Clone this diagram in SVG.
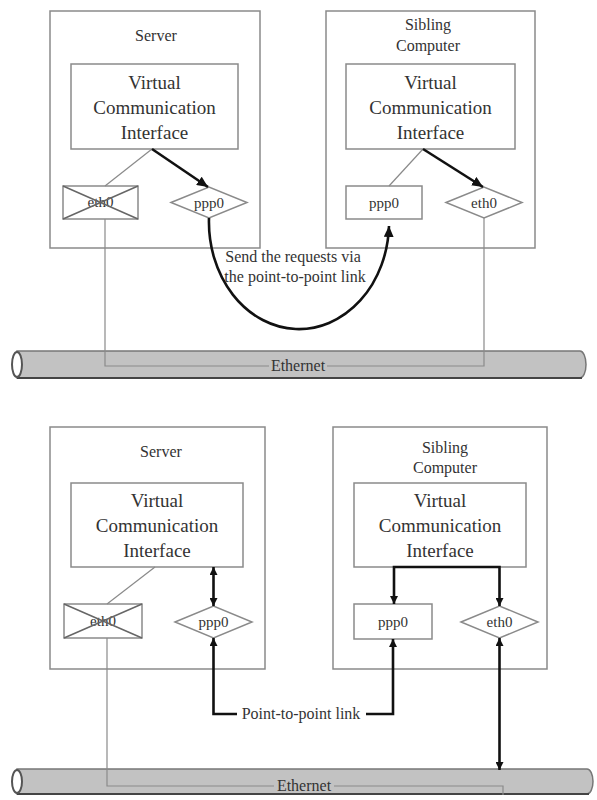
<svg xmlns="http://www.w3.org/2000/svg" width="597" height="800" viewBox="0 0 597 800" font-family="'Liberation Serif', 'DejaVu Serif', serif">
<style>
text{font-family:'Liberation Serif','DejaVu Serif',serif;fill:#333;text-anchor:middle}
.box{fill:#fff;stroke:#8a8a8a;stroke-width:1.5}
.thin{fill:none;stroke:#8a8a8a;stroke-width:1.2}
.bold{fill:none;stroke:#111;stroke-width:2.6}
.lbl{font-size:16px}
.vci{font-size:19px}
.ifc{font-size:15px}
.tube{fill:#c2c2c2;stroke:#777;stroke-width:1.5}
</style>
<defs>
<marker id="ah" markerUnits="userSpaceOnUse" markerWidth="12" markerHeight="10" refX="11" refY="5" orient="auto-start-reverse"><path d="M0,0 L11,5 L0,10 z" fill="#111"/></marker>
<marker id="as" markerUnits="userSpaceOnUse" markerWidth="8" markerHeight="8" refX="8" refY="4" orient="auto-start-reverse"><path d="M0,0 L8,4 L0,8 z" fill="#111"/></marker>
</defs>

<!-- Top section -->
<g id="ethernet-top">
<path class="tube" d="M17,351 H580 A6,13.5 0 0 1 580,378 H17 Z"/>
<line x1="17" y1="378" x2="582" y2="378" stroke="#444" stroke-width="2"/>
<ellipse cx="17" cy="364.5" rx="5" ry="12.5" fill="#fff" stroke="#555" stroke-width="2"/>
</g>
<g id="server-top">
<rect class="box" x="50" y="11" width="210" height="237"/>
<text class="lbl" x="156" y="41">Server</text>
</g>
<g id="vci-server-top">
<rect class="box" x="71" y="64" width="167" height="85"/>
<text class="vci" x="154.5" y="89">Virtual</text>
<text class="vci" x="154.5" y="114">Communication</text>
<text class="vci" x="154.5" y="139">Interface</text>
</g>
<g id="eth0-server-top">
<rect class="box" x="63" y="186" width="75" height="33"/>
<text class="ifc" x="100.5" y="207">eth0</text>
<path d="M63,186 L138,219 M138,186 L63,219" stroke="#666" stroke-width="1.5"/>
</g>
<g id="ppp0-server-top">
<polygon class="box" points="171,202.5 209,187 247,202.5 209,218"/>
<text class="ifc" x="209" y="207.5">ppp0</text>
</g>
<g id="sibling-top">
<rect class="box" x="326" y="11" width="209" height="237"/>
<text class="lbl" x="428" y="30">Sibling</text>
<text class="lbl" x="428" y="51">Computer</text>
</g>
<g id="vci-sibling-top">
<rect class="box" x="346" y="64" width="169" height="85"/>
<text class="vci" x="430.5" y="89">Virtual</text>
<text class="vci" x="430.5" y="114">Communication</text>
<text class="vci" x="430.5" y="139">Interface</text>
</g>
<g id="ppp0-sibling-top">
<rect class="box" x="346" y="186" width="76" height="33"/>
<text class="ifc" x="384" y="207.5">ppp0</text>
</g>
<g id="eth0-sibling-top">
<polygon class="box" points="446,202.5 484,187 522,202.5 484,218"/>
<text class="ifc" x="484" y="207.5">eth0</text>
</g>
<g id="connectors-top">
<line class="thin" x1="152" y1="149" x2="105" y2="186"/>
<line class="bold" x1="152" y1="149" x2="208" y2="187" marker-end="url(#ah)"/>
<line class="thin" x1="423" y1="149" x2="389" y2="186"/>
<line class="bold" x1="423" y1="149" x2="483" y2="187" marker-end="url(#ah)"/>
<path class="bold" d="M209,218 A90,107 0 0 0 389,226" marker-end="url(#ah)"/>
<path class="thin" d="M105,219 V366 H269"/>
<path class="thin" d="M327,366 H484 V218"/>
<text class="lbl" x="298" y="371">Ethernet</text>
<text class="lbl" x="293" y="262">Send the requests via</text>
<text class="lbl" x="295" y="282">the point-to-point link</text>
</g>

<!-- Bottom section -->
<g id="ethernet-bottom">
<path class="tube" d="M17,769 H587 A6,12.5 0 0 1 587,794 H17 Z"/>
<line x1="17" y1="794" x2="589" y2="794" stroke="#444" stroke-width="2"/>
<ellipse cx="17" cy="781.5" rx="5" ry="11.5" fill="#fff" stroke="#555" stroke-width="2"/>
</g>
<g id="server-bottom">
<rect class="box" x="50" y="427" width="215" height="242"/>
<text class="lbl" x="161" y="457">Server</text>
</g>
<g id="vci-server-bottom">
<rect class="box" x="71" y="483" width="172" height="84"/>
<text class="vci" x="157" y="507">Virtual</text>
<text class="vci" x="157" y="532">Communication</text>
<text class="vci" x="157" y="557">Interface</text>
</g>
<g id="eth0-server-bottom">
<rect class="box" x="64" y="604" width="78" height="34"/>
<text class="ifc" x="103" y="626">eth0</text>
<path d="M64,604 L142,638 M142,604 L64,638" stroke="#666" stroke-width="1.5"/>
</g>
<g id="ppp0-server-bottom">
<polygon class="box" points="175,622 213.5,606 252,622 213.5,638"/>
<text class="ifc" x="213.5" y="627">ppp0</text>
</g>
<g id="sibling-bottom">
<rect class="box" x="333" y="427" width="214" height="242"/>
<text class="lbl" x="445" y="453">Sibling</text>
<text class="lbl" x="445" y="473">Computer</text>
</g>
<g id="vci-sibling-bottom">
<rect class="box" x="354" y="483" width="172" height="84"/>
<text class="vci" x="440" y="507">Virtual</text>
<text class="vci" x="440" y="532">Communication</text>
<text class="vci" x="440" y="557">Interface</text>
</g>
<g id="ppp0-sibling-bottom">
<rect class="box" x="354" y="604" width="78" height="35"/>
<text class="ifc" x="393" y="627">ppp0</text>
</g>
<g id="eth0-sibling-bottom">
<polygon class="box" points="461,622 499.5,606 538,622 499.5,638"/>
<text class="ifc" x="499.5" y="627">eth0</text>
</g>
<g id="connectors-bottom">
<line class="thin" x1="155" y1="567" x2="107" y2="604"/>
<line class="bold" x1="213.5" y1="567" x2="213.5" y2="606" marker-start="url(#as)" marker-end="url(#as)"/>
<path class="bold" d="M394,604 V567 H499.5 V606" marker-start="url(#as)" marker-end="url(#as)"/>
<path class="bold" d="M237,714 H213.5 V638" marker-end="url(#as)"/>
<path class="bold" d="M366,714 H393 V639" marker-end="url(#as)"/>
<text class="lbl" x="301" y="719">Point-to-point link</text>
<line class="bold" x1="499.5" y1="638" x2="499.5" y2="770" marker-start="url(#as)" marker-end="url(#as)"/>
<path class="thin" d="M107,638 V786 H274"/>
<path class="thin" d="M334,786 H503 V795"/>
<text class="lbl" x="304" y="791">Ethernet</text>
</g>
</svg>
